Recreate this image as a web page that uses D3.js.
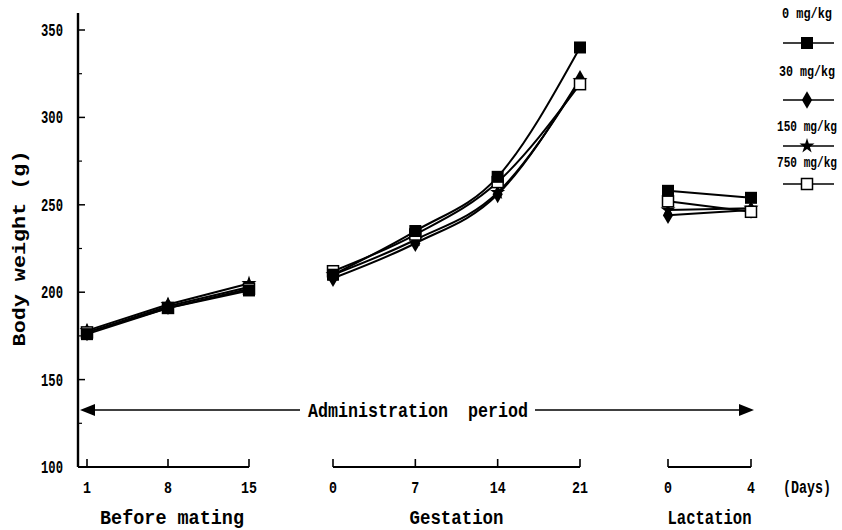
<!DOCTYPE html>
<html><head><meta charset="utf-8">
<script src="https://cdn.jsdelivr.net/npm/d3@7"></script>
<style>body{margin:0;background:#fff}svg{display:block}text{font-family:"Liberation Mono","DejaVu Sans Mono",monospace;fill:#000}</style>
</head><body><svg id="c" width="842" height="530"></svg>
<script>
// ---- data ----
const doses = ["0 mg/kg", "30 mg/kg", "150 mg/kg", "750 mg/kg"];
const symbolsKey = ["square", "diamond", "star", "open"];
const daysBefore = [1, 8, 15];
const daysGest = [0, 7, 14, 21];
const daysLact = [0, 4];
const beforeMating = [
  [176, 191, 201],
  [177, 192, 203],
  [178, 193, 205],
  [177, 191, 202]
];
const gestation = [
  [210, 235, 266, 340],
  [208, 228, 256, 322],
  [210, 230, 257, 321],
  [212, 233, 263, 319]
];
const lactation = [
  [258, 254],
  [244, 247],
  [247, 248],
  [252, 246]
];
const yTicks = [100, 150, 200, 250, 300, 350];
const yMinor = [125, 175, 225, 275, 325];
const periodLabels = ["Before mating", "Gestation", "Lactation"];

// ---- layout ----
const svg = d3.select("#c");
const y = d3.scaleLinear().domain([100, 350]).range([467, 30]);
const xB = d3.scaleLinear().domain([1, 15]).range([87, 249]);
const xG = d3.scaleLinear().domain([0, 21]).range([333, 580]);
const xL = d3.scaleLinear().domain([0, 4]).range([668, 751]);
const axisX = 78;

// condensed text: width w, font size f, via horizontal scale
function txt(x, yy, s, f, w, anchor, weight, rot) {
  s = String(s);
  const sx = w / (s.length * 0.6 * f);
  const t = svg.append("text")
    .attr("transform", `translate(${x},${yy})${rot ? " rotate(-90)" : ""} scale(${sx.toFixed(3)},1)`)
    .attr("text-anchor", anchor || "middle")
    .attr("font-size", f).attr("font-weight", weight || "bold")
    .attr("xml:space", "preserve").text(s);
  return t;
}

// y axis
svg.append("line").attr("x1", axisX).attr("x2", axisX).attr("y1", 13).attr("y2", y(100))
  .attr("stroke", "#000").attr("stroke-width", 2.4);
yTicks.forEach(t => {
  svg.append("line").attr("x1", axisX).attr("x2", axisX + 7).attr("y1", y(t)).attr("y2", y(t)).attr("stroke", "#000").attr("stroke-width", 1.5);
  txt(63, y(t) + 6, t, 18, 22, "end");
});
yMinor.forEach(t => {
  svg.append("line").attr("x1", axisX).attr("x2", axisX + 4).attr("y1", y(t)).attr("y2", y(t)).attr("stroke", "#000").attr("stroke-width", 1.2);
});
txt(25, y(225), "Body weight (g)", 19, 196, "middle", "bold", true);

// x baselines
function baseline(scale, days, x0) {
  const xa = x0 !== undefined ? x0 : scale(days[0]);
  const xb = scale(days[days.length - 1]);
  svg.append("line").attr("x1", xa).attr("x2", xb).attr("y1", 467).attr("y2", 467).attr("stroke", "#000").attr("stroke-width", 2.2);
  days.forEach(d => {
    svg.append("line").attr("x1", scale(d)).attr("x2", scale(d)).attr("y1", 467).attr("y2", 459).attr("stroke", "#000").attr("stroke-width", 1.6);
    const s = String(d);
    txt(scale(d), 493, s, 17, s.length * 8);
  });
}
baseline(xB, daysBefore, axisX);
baseline(xG, daysGest);
baseline(xL, daysLact);
txt(807, 493, "(Days)", 18, 48, "middle", "bold");

// period labels
const plx = [(xB(1) + xB(15)) / 2 + 4, (xG(0) + xG(21)) / 2, (xL(0) + xL(4)) / 2];
periodLabels.forEach((l, i) => {
  txt(plx[i], 524, l, 20, [144, 94, 84][i], "middle", "bold");
});

// administration arrow
const ay = 410;
svg.append("line").attr("x1", 86).attr("x2", 300).attr("y1", ay).attr("y2", ay).attr("stroke", "#000").attr("stroke-width", 1.6);
svg.append("line").attr("x1", 535).attr("x2", 744).attr("y1", ay).attr("y2", ay).attr("stroke", "#000").attr("stroke-width", 1.6);
svg.append("path").attr("d", `M80,${ay} L95,${ay - 6} L95,${ay + 6} Z`).attr("fill", "#000");
svg.append("path").attr("d", `M754,${ay} L739,${ay - 6} L739,${ay + 6} Z`).attr("fill", "#000");
txt(418, ay + 7, "Administration  period", 20, 220, "middle", "bold");

// markers
function marker(g, kind, cx, cy) {
  if (kind === "square") {
    g.append("rect").attr("x", cx - 6).attr("y", cy - 6).attr("width", 12).attr("height", 12).attr("fill", "#000");
  } else if (kind === "diamond") {
    g.append("path").attr("transform", `translate(${cx},${cy})`).attr("d", d3.symbol(d3.symbolDiamond, 90)()).attr("fill", "#000");
  } else if (kind === "star") {
    g.append("path").attr("transform", `translate(${cx},${cy})`).attr("d", d3.symbol(d3.symbolStar, 70)()).attr("fill", "#000");
  } else {
    g.append("rect").attr("x", cx - 5.5).attr("y", cy - 5.5).attr("width", 11).attr("height", 11).attr("fill", "#fff").attr("stroke", "#000").attr("stroke-width", 1.5);
  }
}

const segs = [
  {days: daysBefore, data: beforeMating, x: xB, curve: d3.curveLinear},
  {days: daysGest, data: gestation, x: xG, curve: d3.curveMonotoneX},
  {days: daysLact, data: lactation, x: xL, curve: d3.curveLinear}
];
const gLines = svg.append("g"), gMarks = svg.append("g");
segs.forEach(s => {
  s.data.forEach(vals => {
    const pts = vals.map((v, i) => [s.x(s.days[i]), y(v)]);
    gLines.append("path").attr("d", d3.line().curve(s.curve)(pts)).attr("fill", "none").attr("stroke", "#000").attr("stroke-width", 2);
  });
});
[1, 2, 3, 0].forEach(si => {
  segs.forEach(s => {
    s.data[si].forEach((v, i) => marker(gMarks, symbolsKey[si], s.x(s.days[i]), y(v)));
  });
});

// legend
const legY = [[18, 43], [76, 100], [131, 146], [167, 184]];
doses.forEach((d, i) => {
  txt(807, legY[i][0], d, 14, [50, 56, 60, 60][i], "middle", "bold");
  svg.append("line").attr("x1", 783).attr("x2", 834).attr("y1", legY[i][1]).attr("y2", legY[i][1]).attr("stroke", "#000").attr("stroke-width", 1.3);
  marker(svg, symbolsKey[i], 807, legY[i][1]);
});
</script></body></html>
